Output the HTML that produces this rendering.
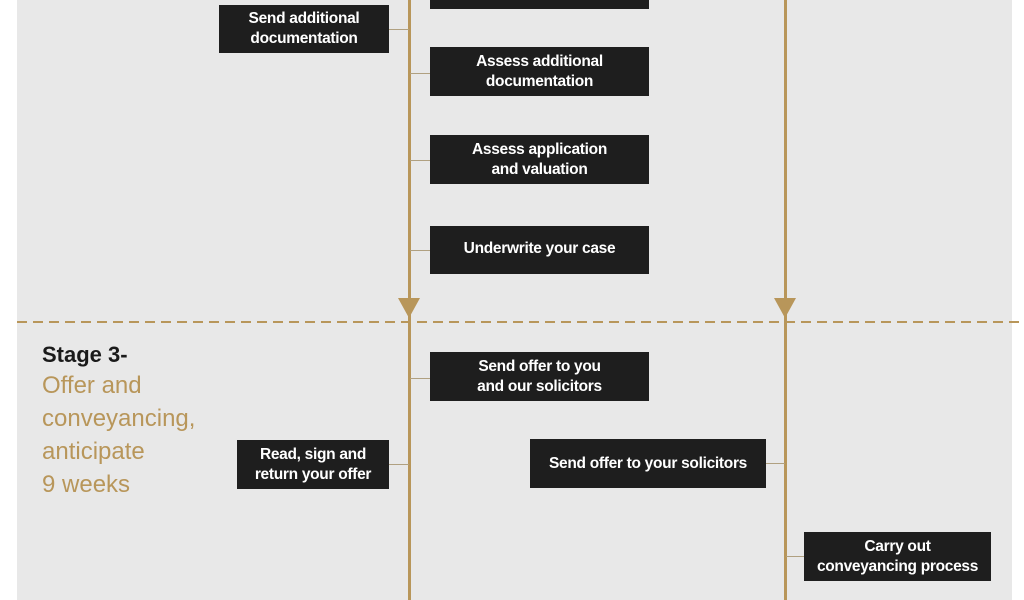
<!DOCTYPE html>
<html><head><style>
body{margin:0;width:1024px;height:600px;background:#fff;position:relative;overflow:hidden;font-family:"Liberation Sans",sans-serif}
.panel{position:absolute;left:17px;top:0;width:995px;height:600px;background:#e8e8e8}
.v{position:absolute;top:0;width:3px;height:600px;background:#b8965a}
.b{position:absolute;background:#1e1e1e;color:#fff;font-size:15.5px;font-weight:bold;line-height:20px;text-align:center;display:flex;align-items:center;justify-content:center;box-sizing:border-box;letter-spacing:-0.3px;white-space:nowrap}
.c{position:absolute;height:1px;background:#b0a080}
.t{position:absolute;left:42px;font-size:24px;line-height:33px;color:#b8965a}
</style></head><body>
<div class="panel"></div>
<svg style="position:absolute;left:0;top:0" width="1024" height="600">
<line x1="17" y1="322" x2="1024" y2="322" stroke="#b8965a" stroke-width="2" stroke-dasharray="10,6"/>
<polygon points="398,298 420,298 409,318" fill="#b8965a"/>
<polygon points="774,298 796,298 785,318" fill="#b8965a"/>
</svg>
<div class="v" style="left:408px"></div>
<div class="v" style="left:784px"></div>
<div class="c" style="left:389px;top:29px;width:20px"></div>
<div class="c" style="left:410px;top:73px;width:20px"></div>
<div class="c" style="left:410px;top:160px;width:20px"></div>
<div class="c" style="left:410px;top:250px;width:20px"></div>
<div class="c" style="left:410px;top:378px;width:20px"></div>
<div class="c" style="left:389px;top:464px;width:20px"></div>
<div class="c" style="left:766px;top:463px;width:19px"></div>
<div class="c" style="left:786px;top:556px;width:18px"></div>
<div class="b" style="left:430px;top:-40px;width:219px;height:49px"></div>
<div class="b" style="left:219px;top:5px;width:170px;height:48px">Send additional<br>documentation</div>
<div class="b" style="left:430px;top:47px;width:219px;height:49px">Assess additional<br>documentation</div>
<div class="b" style="left:430px;top:135px;width:219px;height:49px">Assess application<br>and valuation</div>
<div class="b" style="left:430px;top:226px;width:219px;height:48px;padding-bottom:3px">Underwrite your case</div>
<div class="b" style="left:430px;top:352px;width:219px;height:49px">Send offer to you<br>and our solicitors</div>
<div class="b" style="left:237px;top:440px;width:152px;height:49px">Read, sign and<br>return your offer</div>
<div class="b" style="left:530px;top:439px;width:236px;height:49px">Send offer to your solicitors</div>
<div class="b" style="left:804px;top:532px;width:187px;height:49px">Carry out<br>conveyancing process</div>
<div class="t" style="top:338px;color:#1a1a1a;font-weight:bold;font-size:22px">Stage 3-</div>
<div class="t" style="top:369px">Offer and<br>conveyancing,<br>anticipate<br>9 weeks</div>
</body></html>
